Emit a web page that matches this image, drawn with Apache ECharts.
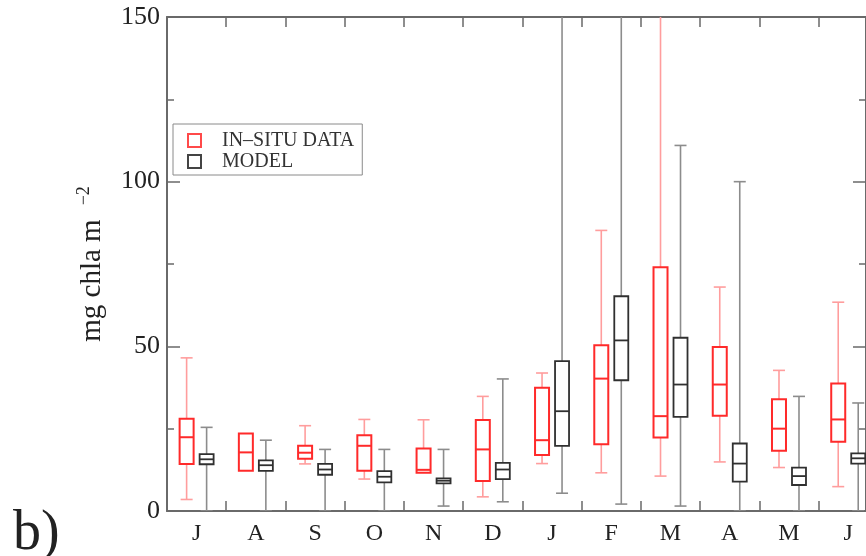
<!DOCTYPE html>
<html>
<head>
<meta charset="utf-8">
<script src="https://cdn.jsdelivr.net/npm/echarts@6/dist/echarts.min.js"></script>
<style>
html,body{margin:0;padding:0;background:#fff;}
#chart{width:866px;height:556px;}
</style>
</head>
<body>
<div id="chart"></div>
<script>
// Month categories (positions 1..12 on the x axis)
const months = ['J','A','S','O','N','D','J','F','M','A','M','J'];
const monthPos = [1,2,3,4,5,6,7,8,9,10,11,12];
const boundaryTicks = [1.5,2.5,3.5,4.5,5.5,6.5,7.5,8.5,9.5,10.5,11.5];
const yTicks = [0, 50, 100, 150];

// [low whisker, Q1, median, Q3, high whisker]
const insitu = [
  [3.5, 14.3, 22.4, 28.0, 46.5],
  [12.2, 12.2, 17.8, 23.5, 23.5],
  [14.3, 15.9, 17.7, 19.8, 25.9],
  [9.7, 12.2, 19.8, 23.0, 27.8],
  [11.6, 11.6, 12.5, 19.0, 27.7],
  [4.3, 9.1, 18.7, 27.6, 34.8],
  [14.4, 17.0, 21.5, 37.4, 41.9],
  [11.6, 20.3, 40.2, 50.3, 85.2],
  [10.6, 22.3, 28.8, 74.0, 160],
  [14.9, 28.9, 38.4, 49.8, 68.0],
  [13.2, 18.3, 25.0, 33.9, 42.7],
  [7.4, 21.0, 27.8, 38.7, 63.4]
];
const model = [
  [0, 14.2, 15.7, 17.3, 25.4],
  [0, 12.2, 13.9, 15.4, 21.5],
  [0, 11.0, 12.6, 14.3, 18.7],
  [0, 8.7, 10.4, 12.1, 18.7],
  [1.5, 8.4, 9.2, 9.9, 18.7],
  [2.8, 9.7, 12.6, 14.6, 40.1],
  [5.4, 19.8, 30.3, 45.5, 160],
  [2.1, 39.7, 51.8, 65.2, 160],
  [1.5, 28.6, 38.4, 52.6, 111],
  [0, 8.9, 14.4, 20.5, 100],
  [0, 7.9, 10.6, 13.2, 34.8],
  [0, 14.4, 16.0, 17.5, 32.8]
];

const seriesNames = ['IN\u2013SITU DATA', 'MODEL'];
const boxColors = ['#ff2a2a', '#303030'];
const whiskerColors = ['#ff9d9d', '#8c8c8c'];
const offsets = [-10, 10];

function toData(arr){ return arr.map((d,i)=>[monthPos[i]].concat(d)); }

function makeRender(idx){
  return function(params, api){
    const x = api.value(0);
    const low = api.value(1), q1 = api.value(2), med = api.value(3), q3 = api.value(4), high = api.value(5);
    const pL = api.coord([x, low]), p1 = api.coord([x, q1]), pM = api.coord([x, med]),
          p3 = api.coord([x, q3]), pH = api.coord([x, high]);
    const cx = pL[0] + offsets[idx];
    const bw = 14, cw = 12;
    const wStyle = {stroke: whiskerColors[idx], lineWidth: 1.6, fill: null};
    const bStyle = {stroke: boxColors[idx], lineWidth: idx === 0 ? 2 : 1.8, fill: null};
    const children = [];
    if (high > q3) {
      children.push({type:'line', shape:{x1:cx, y1:p3[1], x2:cx, y2:pH[1]}, style:wStyle});
      children.push({type:'line', shape:{x1:cx-cw/2, y1:pH[1], x2:cx+cw/2, y2:pH[1]}, style:wStyle});
    }
    if (low < q1) {
      children.push({type:'line', shape:{x1:cx, y1:p1[1], x2:cx, y2:pL[1]}, style:wStyle});
      children.push({type:'line', shape:{x1:cx-cw/2, y1:pL[1], x2:cx+cw/2, y2:pL[1]}, style:wStyle});
    }
    children.push({type:'rect', shape:{x:cx-bw/2, y:p3[1], width:bw, height:p1[1]-p3[1]}, style:Object.assign({}, bStyle, {fill:'#fff'})});
    children.push({type:'line', shape:{x1:cx-bw/2, y1:pM[1], x2:cx+bw/2, y2:pM[1]}, style:bStyle});
    return {type:'group', children: children};
  };
}

const chart = echarts.init(document.getElementById('chart'), null, {renderer:'canvas'});
const axisColor = '#6a6a6a';
const serif = 'Liberation Serif';

chart.setOption({
  animation: false,
  backgroundColor: '#fff',
  textStyle: {fontFamily: serif},
  grid: {left: 167, top: 17, width: 702, height: 494, containLabel: false},
  legend: {
    orient: 'vertical',
    left: 173, top: 124,
    borderColor: '#8a8a8a', borderWidth: 1,
    padding: [6, 8, 3, 14],
    itemWidth: 13, itemHeight: 13, itemGap: 0,
    icon: 'rect',
    textStyle: {fontFamily: serif, fontSize: 20, color: '#333', lineHeight: 21, padding: [0,0,0,16]},
    data: [
      {name: seriesNames[0], itemStyle: {color: 'transparent', borderColor: '#ff4a4a', borderWidth: 2}},
      {name: seriesNames[1], itemStyle: {color: 'transparent', borderColor: '#444', borderWidth: 2}}
    ]
  },
  xAxis: [{
    type: 'value', min: 0.5, max: 12.3, position: 'bottom',
    axisLine: {show: true, onZero: false, lineStyle: {color: axisColor, width: 2}},
    axisTick: {show: true, inside: true, length: 10, lineStyle: {color: axisColor, width: 1.5}, customValues: boundaryTicks},
    axisLabel: {show: true, customValues: monthPos, formatter: v => months[Math.round(v)-1] || '', fontFamily: serif, fontSize: 24, color: '#222', margin: 11},
    splitLine: {show: false}
  }, {
    type: 'value', min: 0.5, max: 12.3, position: 'top',
    axisLine: {show: true, onZero: false, lineStyle: {color: axisColor, width: 2}},
    axisTick: {show: true, inside: true, length: 10, lineStyle: {color: axisColor, width: 1.5}, customValues: boundaryTicks},
    axisLabel: {show: false},
    splitLine: {show: false}
  }],
  yAxis: [{
    type: 'value', min: 0, max: 150, interval: 50, position: 'left',
    name: '{a|mg chla m}{b|\u22122}',
    nameLocation: 'middle', nameGap: 58, nameRotate: 90,
    nameTextStyle: {rich: {
      a: {fontFamily: serif, fontSize: 29, color: '#222'},
      b: {fontFamily: serif, fontSize: 18, color: '#222', verticalAlign: 'top', padding: [0,0,16,14]}
    }},
    axisLine: {show: true, onZero: false, lineStyle: {color: axisColor, width: 2}},
    axisTick: {show: true, inside: true, length: 13, lineStyle: {color: axisColor, width: 1.5}},
    minorTick: {show: true, splitNumber: 2, length: 7, lineStyle: {color: axisColor, width: 1.5}},
    axisLabel: {fontFamily: serif, fontSize: 26, color: '#222', margin: 7},
    splitLine: {show: false}
  }, {
    type: 'value', min: 0, max: 150, interval: 50, position: 'right',
    axisLine: {show: true, onZero: false, lineStyle: {color: axisColor, width: 2}},
    axisTick: {show: true, inside: true, length: 13, lineStyle: {color: axisColor, width: 1.5}},
    minorTick: {show: true, splitNumber: 2, length: 7, lineStyle: {color: axisColor, width: 1.5}},
    axisLabel: {show: false},
    splitLine: {show: false}
  }],
  graphic: [{
    type: 'text', left: 13, top: 506,
    style: {text: 'b)', font: '56px "Liberation Serif"', fill: '#222'}
  }],
  series: [0, 1].map(idx => ({
    name: seriesNames[idx],
    type: 'custom',
    clip: true,
    xAxisIndex: 0, yAxisIndex: 0,
    itemStyle: {color: boxColors[idx]},
    encode: {x: 0, y: [1, 2, 3, 4, 5]},
    renderItem: makeRender(idx),
    data: toData(idx === 0 ? insitu : model)
  }))
});
</script>
</body>
</html>
